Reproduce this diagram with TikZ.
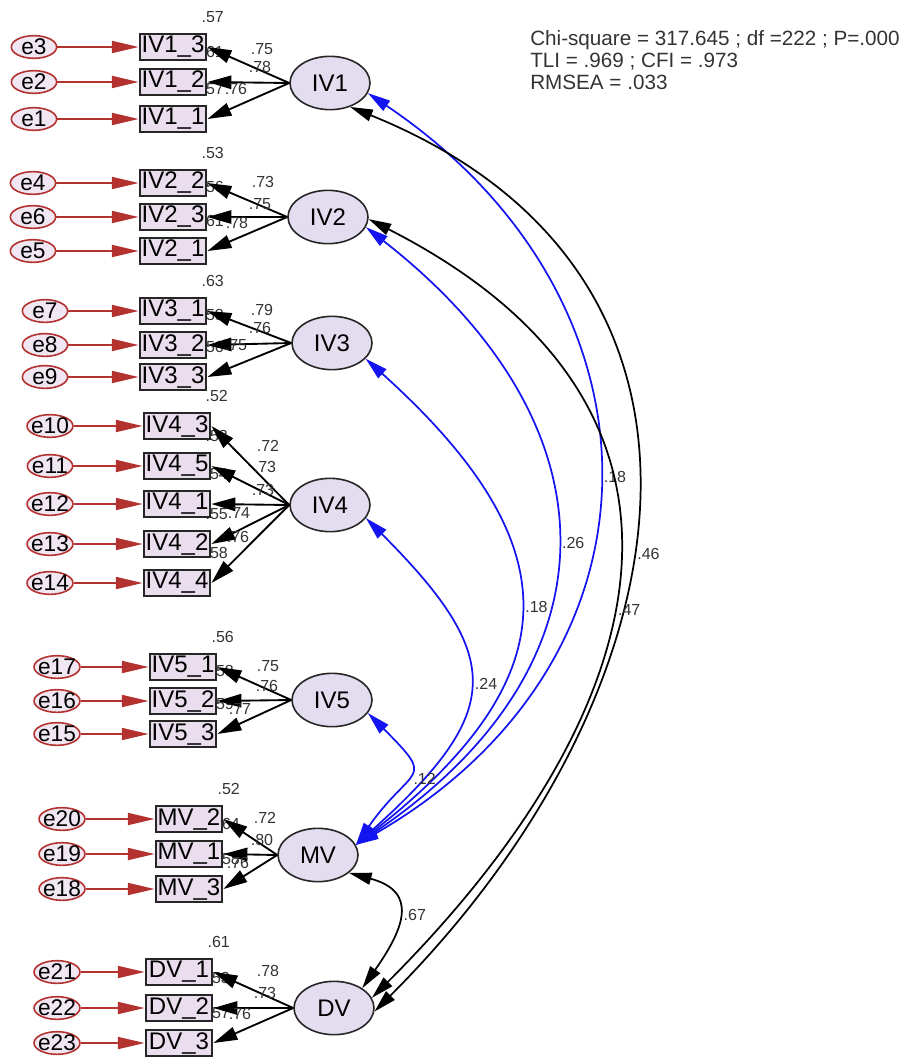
\documentclass[tikz,border=0pt]{standalone}
\usepackage{fontspec}
\setmainfont{Liberation Sans}
\usetikzlibrary{arrows.meta, shapes.geometric, backgrounds}
\definecolor{lila}{HTML}{E4DCEF}
\definecolor{rosa}{HTML}{E9DDEE}
\definecolor{rojo}{HTML}{B3322F}
\definecolor{azul}{HTML}{1414F0}
\definecolor{gris}{HTML}{333333}
\tikzset{
  lat/.style={ellipse, draw=black!85, fill=lila, line width=1.2pt, minimum width=60pt,
              minimum height=40pt, inner sep=0pt, font=\fontsize{18}{20}\selectfont},
  ind/.style={rectangle, draw=black!85, fill=rosa, line width=1.6pt, minimum width=50pt,
              minimum height=20pt, inner sep=0pt, font=\fontsize{18}{20}\selectfont},
  err/.style={ellipse, draw=rojo, fill=rosa!70, line width=1.2pt, minimum width=34pt,
              minimum height=17pt, inner sep=-2pt, font=\fontsize{17}{19}\selectfont},
  lbl/.style={text=gris, inner sep=1pt, font=\fontsize{12}{14}\selectfont},
  lblc/.style={lbl, right, xshift=3pt},
  ajuste/.style={text=gris, align=left, anchor=north west, inner sep=0pt,
              font=\fontsize{15.5}{16.5}\selectfont},
  flechae/.style={-{Triangle[length=20pt, width=9pt]}, line width=1.3pt, rojo},
  flecha/.style={-{Triangle[length=18pt, width=10pt]}, line width=1.4pt, black},
  covb/.style={{Triangle[length=17pt, width=9pt]}-{Triangle[length=17pt, width=9pt]},
              line width=1.3pt, azul},
  covn/.style={{Triangle[length=17pt, width=9pt]}-{Triangle[length=17pt, width=9pt]},
              line width=1.3pt, black},
}

\begin{document}
\begin{tikzpicture}[x=0.75pt, y=0.75pt]
  \useasboundingbox (0,0) rectangle (903,-1057);
  % latentes
  \node[lat] (IV1) at (330,-83) {IV1};
  \node[lat] (IV2) at (328,-217) {IV2};
  \node[lat] (IV3) at (332,-343) {IV3};
  \node[lat] (IV4) at (330,-505) {IV4};
  \node[lat] (IV5) at (332,-700) {IV5};
  \node[lat] (MV) at (318,-855) {MV};
  \node[lat] (DV) at (334,-1008) {DV};
  % indicadores, errores y R2
  \foreach \lat/\bx/\ex/\items in {
      IV1/173/34/{IV13/IV1\_3/e3/47/.57, IV12/IV1\_2/e2/82/.61, IV11/IV1\_1/e1/119/.57},
      IV2/173/33/{IV22/IV2\_2/e4/183/.53, IV23/IV2\_3/e6/217/.56, IV21/IV2\_1/e5/251/.61},
      IV3/173/45/{IV31/IV3\_1/e7/311/.63, IV32/IV3\_2/e8/345/.58, IV33/IV3\_3/e9/377/.56},
      IV4/177/50/{IV43/IV4\_3/e10/426/.52, IV45/IV4\_5/e11/466/.53, IV41/IV4\_1/e12/504/.54,
                  IV42/IV4\_2/e13/544/.55, IV44/IV4\_4/e14/583/.58},
      IV5/183/57/{IV51/IV5\_1/e17/667/.56, IV52/IV5\_2/e16/701/.58, IV53/IV5\_3/e15/734/.59},
      MV/189/62/{MV2/MV\_2/e20/819/.52, MV1/MV\_1/e19/854/.64, MV3/MV\_3/e18/889/.58},
      DV/179/57/{DV1/DV\_1/e21/972/.61, DV2/DV\_2/e22/1008/.53, DV3/DV\_3/e23/1043/.57}} {
    \foreach \n/\t/\e/\y/\r in \items {
      \node[ind] (\n) at (\bx,-\y) {\t};
      \node[err] (\e) at (\ex,-\y) {\e};
      \begin{pgfonlayer}{background}
        \node[lbl] (r\n) at ([xshift=4pt, yshift=11.6pt]\n.north east) {\r};
      \end{pgfonlayer}
      \draw[flechae] (\e) -- (\n);
      \draw[flecha] (\lat.west) -- (\n.east);
    }
  }
  % cargas
  \foreach \x/\y/\v [count=\i] in {262/49/.75, 260/67/.78, 236/89/.76,
      263/182/.73, 260/204/.75, 237/223/.78, 262/310/.79, 260/328/.76, 236/345/.75,
      268/446/.72, 265/467/.73, 263/490/.73, 239/513/.74, 238/537/.76,
      268/666/.75, 267/686/.76, 240/709/.77, 265/818/.72, 262/840/.80, 238/863/.76,
      268/971/.78, 265/993/.73, 240/1014/.76}
    \node[lbl] (w\i) at (\x,-\y) {\v};
  % covarianzas
  \draw[covb] (IV1.-15) to[out=-34, in=30, looseness=1.26] node[lblc, pos=.5] (c1) {.18} (MV.15);
  \draw[covb] (IV2.-15) to[out=-38, in=34, looseness=1.33] node[lblc, pos=.5] (c2) {.26} (MV.15);
  \draw[covb] (IV3.-25) to[out=-42, in=38, looseness=1.45] node[lblc, pos=.5] (c3) {.18} (MV.15);
  \draw[covb] (IV4.-20) to[out=-45, in=42, looseness=1.55] node[lblc, pos=.5] (c4) {.24} (MV.15);
  \draw[covb] (IV5.-20) to[out=-45, in=55, looseness=1.9] node[lblc, pos=.55] (c5) {.12} (MV.15);
  \draw[covn] (IV1.-50) to[out=-22, in=45, looseness=1.26] node[lblc, pos=.55] (c6) {.46} (DV.-5);
  \draw[covn] (IV2.-3) to[out=-27, in=45, looseness=1.35] node[lblc, pos=.55] (c7) {.47} (DV.15);
  \draw[covn] (MV.-30) to[out=-15, in=55, looseness=1.6] node[lblc, pos=.5] (c8) {.67} (DV.35);
  % ajuste
  \node[ajuste] (indices) at (530,-30) {Chi-square = 317.645 ; df =222 ; P=.000\\
    TLI = .969 ; CFI = .973\\RMSEA = .033};
\end{tikzpicture}
\end{document}
